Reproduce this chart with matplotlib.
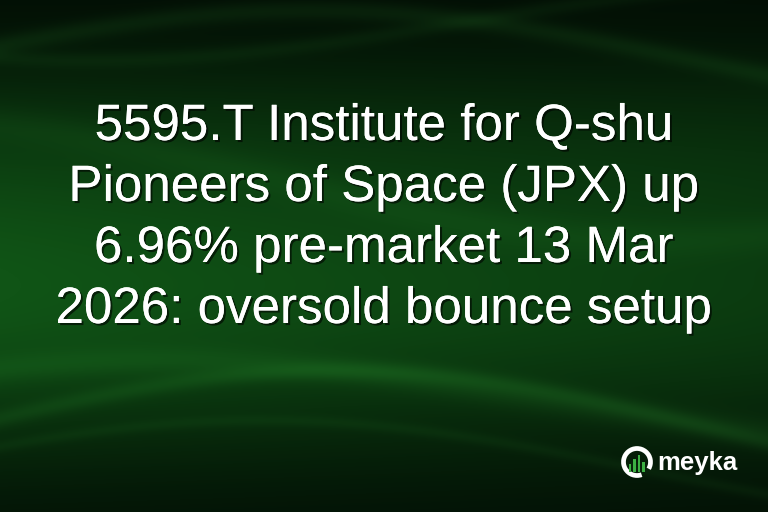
import numpy as np
import matplotlib
matplotlib.use("Agg")
import matplotlib.pyplot as plt
import matplotlib.patheffects as pe
from matplotlib.patches import Arc, Rectangle

# Textos del titular
lineas_titulo = [
    "5595.T Institute for Q-shu",
    "Pioneers of Space (JPX) up",
    "6.96% pre-market 13 Mar",
    "2026: oversold bounce setup",
]
marca = "meyka"
alturas_barras = [0.45, 0.75, 1.0, 0.6]

W, H = 768, 512
fig = plt.figure(figsize=(W / 100, H / 100), dpi=100)
ax = fig.add_axes([0, 0, 1, 1])
ax.set_xlim(0, W)
ax.set_ylim(H, 0)
ax.axis("off")

# Fondo verde con degradado y franjas de luz
yy, xx = np.mgrid[0:H, 0:W].astype(float)
brillo = np.exp(-((yy - 290) / 160) ** 2) * (1.0 - 0.35 * xx / W)
brillo += 0.2 * np.exp(-((yy - 130) / 90) ** 2)

def franja(y0, amp, fase, ancho, k=1.0):
    curva = y0 + amp * np.sin(xx / W * np.pi * k + fase)
    return np.exp(-((yy - curva) / ancho) ** 2)

luz = (0.25 * franja(60, -50, 0.3, 10) + 0.18 * franja(20, 40, 1.2, 8)
       + 0.25 * franja(430, -60, 0.2, 9) + 0.22 * franja(400, -40, 0.9, 14)
       + 0.15 * franja(470, -50, 0.5, 6) + 0.15 * franja(180, -60, 2.0, 18))
r = 2 + 14 * brillo + 22 * luz
g = 12 + 72 * brillo + 62 * luz
b = 4 + 18 * brillo + 22 * luz
fondo = np.clip(np.dstack([r, g, b]) / 255.0, 0, 1)
ax.imshow(fondo, extent=[0, W, H, 0], aspect="auto", zorder=0)

# Titular
sombra = [pe.withSimplePatchShadow(offset=(1.5, -1.5), shadow_rgbFace="black", alpha=0.6),
          pe.Normal()]
y_base = 140
for i, linea in enumerate(lineas_titulo):
    ax.text(W / 2, y_base + i * 61, linea, ha="center", va="baseline",
            fontsize=36.8, color="white", family="Liberation Sans",
            path_effects=sombra, zorder=3)

# Logo
cx, cy, rad = 637, 462, 13.5
ax.add_patch(Arc((cx, cy), 2 * rad, 2 * rad, theta1=70, theta2=390,
                 color="white", lw=3.4, zorder=4))
for j, h in enumerate(alturas_barras):
    x0 = cx - 8.5 + j * 4.6
    ax.add_patch(Rectangle((x0, cy + 10 - 17 * h), 2.6, 17 * h,
                           color="#3cb043", lw=0, zorder=4))
ax.text(657, 463, marca, ha="left", va="center", fontsize=18.5, color="white",
        fontweight="bold", family="Liberation Sans", zorder=4)

fig.savefig("out.png", dpi=100)
